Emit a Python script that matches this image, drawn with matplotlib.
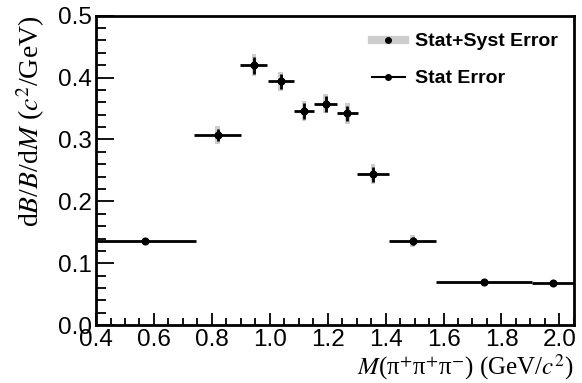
import matplotlib
matplotlib.use("Agg")
import matplotlib.pyplot as plt
from matplotlib.lines import Line2D
from matplotlib.ticker import MultipleLocator

plt.rcParams["font.family"] = ["Liberation Sans", "DejaVu Sans"]
plt.rcParams["mathtext.fontset"] = "stix"

# bin centres, half widths and values
mass = [0.570, 0.820, 0.945, 1.038, 1.118, 1.193, 1.268, 1.357, 1.493, 1.740, 1.978]
half_w = [0.175, 0.082, 0.047, 0.045, 0.036, 0.040, 0.035, 0.056, 0.082, 0.165, 0.072]
dbdm = [0.136, 0.307, 0.420, 0.394, 0.346, 0.358, 0.342, 0.244, 0.136, 0.070, 0.0675]
stat_err = [0.003, 0.010, 0.014, 0.012, 0.013, 0.013, 0.012, 0.012, 0.006, 0.002, 0.002]
tot_err = [0.005, 0.014, 0.018, 0.015, 0.016, 0.016, 0.017, 0.016, 0.009, 0.003, 0.003]

GRAY = "#cdcdcd"

fig = plt.figure(figsize=(5.82, 3.83), dpi=100)
ax = fig.add_axes([0.165, 0.151, 0.821, 0.808])

# stat+syst boxes
ax.bar(mass, [2 * e for e in tot_err], bottom=[v - e for v, e in zip(dbdm, tot_err)],
       width=0.016, color=GRAY, zorder=1)
# stat errors
ax.errorbar(mass, dbdm, xerr=half_w, yerr=stat_err, fmt="o", color="black",
            ms=4.8, elinewidth=2.0, capsize=0, zorder=3)

ax.set_xlim(0.4, 2.05)
ax.set_ylim(0.0, 0.5)
ax.xaxis.set_major_locator(MultipleLocator(0.2))
ax.xaxis.set_minor_locator(MultipleLocator(0.05))
ax.yaxis.set_major_locator(MultipleLocator(0.1))
ax.yaxis.set_minor_locator(MultipleLocator(0.02))
ax.tick_params(which="both", direction="in", top=False, right=False, width=1.3,
               labelsize=17.5)
ax.tick_params(axis="y", which="major", length=13, pad=3)
ax.tick_params(axis="y", which="minor", length=7)
ax.tick_params(axis="x", which="major", length=9, pad=3)
ax.tick_params(axis="x", which="minor", length=5)
for s in ax.spines.values():
    s.set_linewidth(2.0)

ax.set_xlabel(r"$M$(π$^{+}$π$^{+}$π$^{-}$) (GeV/$c^2$)", fontfamily="Liberation Serif",
              fontsize=18, loc="right", labelpad=1)
ax.set_ylabel(r"d$B$/$B$/d$M$ ($c^2$/GeV)", fontfamily="Liberation Serif",
              fontsize=20, loc="top", labelpad=8)

handles = [
    Line2D([], [], color=GRAY, lw=6, marker="o", ms=4, mfc="black", mec="black"),
    Line2D([], [], color="black", lw=1.5, marker="o", ms=4),
]
ax.legend(handles, ["Stat+Syst Error", "Stat Error"], loc="upper left",
          frameon=False, prop={"weight": "bold", "size": 14}, handlelength=1.7,
          handletextpad=0.5, labelspacing=1.0, borderpad=0, borderaxespad=0,
          bbox_to_anchor=(0.577, 0.945))

fig.savefig("out.png", dpi=100, facecolor="white")
